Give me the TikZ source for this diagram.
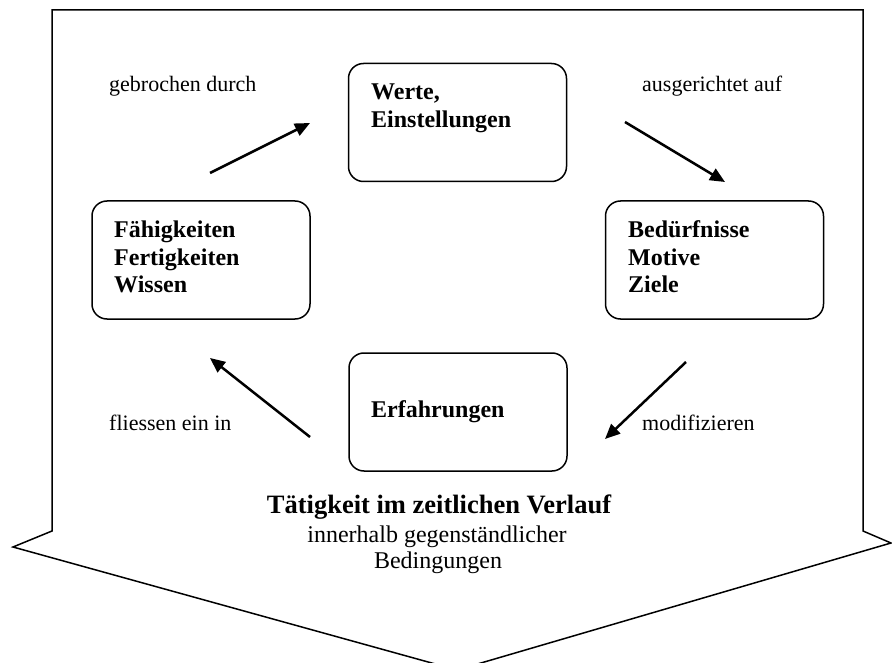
\documentclass[tikz,border=0pt]{standalone}
\usepackage{fontspec}
\setmainfont{Liberation Serif}
\usetikzlibrary{arrows.meta}
\tikzset{
  outline/.style={draw=black, line width=1.5pt, line join=miter},
  box/.style={draw=black, line width=1.5pt, rounded corners=15pt, minimum width=218pt, minimum height=118pt, inner sep=0pt},
  boxtxt/.style={anchor=base west, inner sep=0pt, font=\fontsize{24}{27.5}\selectfont\bfseries},
  lbl/.style={anchor=base west, inner sep=0pt, font=\fontsize{22}{26}\selectfont},
  title/.style={anchor=base, inner sep=0pt, font=\fontsize{26.5}{29}\selectfont\bfseries},
  sub/.style={anchor=base, inner sep=0pt, font=\fontsize{24}{27}\selectfont},
  conn/.style={line width=2.5pt, -{Triangle[length=15pt,width=13pt]}}
}
\begin{document}
\begin{tikzpicture}[x=1pt,y=-1pt]
\useasboundingbox (0,0) rectangle (892,663);
\fill[white] (0,0) rectangle (892,663);
% big arrow shape
\draw[outline] (52,10) -- (863,10) -- (863,531) -- (891,543) -- (457,670) -- (13,547) -- (52,531) -- cycle;
% boxes
\node[box] (werte) at (457.5,122.5) {};
\node[box] (faeh) at (201,260) {};
\node[box] (bed) at (714.5,260) {};
\node[box] (erf) at (458,412) {};
% box texts
\node[boxtxt] (t1) at (371,100) {Werte,};
\node[boxtxt] (t2) at (371,128) {Einstellungen};
\node[boxtxt] (t3) at (114,238) {Fähigkeiten};
\node[boxtxt] (t4) at (114,265.5) {Fertigkeiten};
\node[boxtxt] (t5) at (114,293) {Wissen};
\node[boxtxt] (t6) at (628,238) {Bedürfnisse};
\node[boxtxt] (t7) at (628,265.5) {Motive};
\node[boxtxt] (t8) at (628,293) {Ziele};
\node[boxtxt] (t9) at (371,417) {Erfahrungen};
% labels
\node[lbl] (l1) at (109,92) {gebrochen durch};
\node[lbl] (l2) at (642,92) {ausgerichtet auf};
\node[lbl] (l3) at (109,430) {fliessen ein in};
\node[lbl] (l4) at (642,430) {modifizieren};
% bottom text
\node[title] (ti) at (439,513) {Tätigkeit im zeitlichen Verlauf};
\node[sub] (s1) at (437,542) {innerhalb gegenständlicher};
\node[sub] (s2) at (438,568) {Bedingungen};
% arrows
\coordinate (a1s) at (210,173); \coordinate (a1e) at (310,123);
\coordinate (a2s) at (625,122); \coordinate (a2e) at (725,182);
\coordinate (a3s) at (686,362); \coordinate (a3e) at (605,439);
\coordinate (a4s) at (310,437); \coordinate (a4e) at (210,358);
\draw[conn] (a1s) -- (a1e);
\draw[conn] (a2s) -- (a2e);
\draw[conn] (a3s) -- (a3e);
\draw[conn] (a4s) -- (a4e);
\end{tikzpicture}
\end{document}
